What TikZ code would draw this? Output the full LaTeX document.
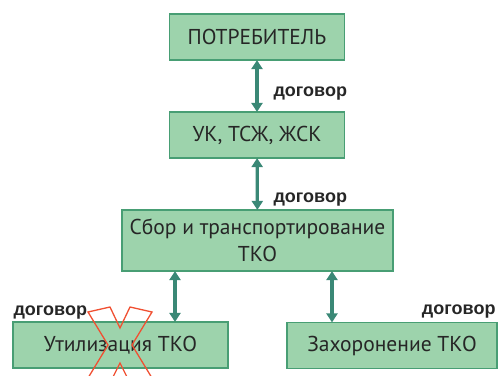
\documentclass[tikz,border=0pt]{standalone}
\usepackage{fontspec}
\setmainfont{PT Sans}
\newfontfamily\lblfont{Liberation Sans}
\usetikzlibrary{arrows.meta}
\definecolor{boxfill}{RGB}{157,211,172}
\definecolor{boxline}{RGB}{72,158,116}
\definecolor{arrcol}{RGB}{58,136,118}
\definecolor{xred}{RGB}{240,80,50}

\begin{document}
\begin{tikzpicture}[x=1pt,y=-1pt,
  blok/.style={draw=boxline,fill=boxfill,line width=1.2pt,inner sep=0pt,
    font=\fontsize{21.5}{27}\selectfont,text=black!85,align=center},
  arr/.style={{Triangle[width=11pt,length=9pt]}-{Triangle[width=11pt,length=9pt]},
    draw=arrcol,fill=arrcol,line width=3.2pt,shorten <=-0.5pt,shorten >=-0.5pt},
  dogovor/.style={font=\lblfont\bfseries\fontsize{18}{20}\selectfont,text=black!85}]
\clip (0,0) rectangle (500,375);
% boxes
\node[blok,minimum width=175,minimum height=46] (potr) at (257,37) {ПОТРЕБИТЕЛЬ};
\node[blok,minimum width=175,minimum height=46] (uk) at (257,135) {УК, ТСЖ, ЖСК};
\node[blok,minimum width=271,minimum height=61] (sbor) at (257.5,240.5) {Сбор и транспортирование\\ТКО};
\node[blok,minimum width=215,minimum height=46] (util) at (120.5,345) {Утилизация ТКО};
\node[blok,minimum width=210,minimum height=46] (zah) at (392,345.5) {Захоронение ТКО};
% arrows
\coordinate (c1) at (175,0);
\coordinate (c2) at (332,0);
\draw[arr] (potr) -- (uk);
\draw[arr] (uk) -- (sbor);
\draw[arr] (sbor.south -| c1) -- (util.north -| c1);
\draw[arr] (sbor.south -| c2) -- (zah.north -| c2);
% labels
\node[dogovor,anchor=west] (d1) at (270,94) {договор};
\node[dogovor,anchor=west] (d2) at (270,200) {договор};
\node[dogovor,anchor=west] (d3) at (10,313) {договор};
\node[dogovor,anchor=east] (d4) at (499,312) {договор};
% crossed out
\draw[xred,line width=1.3pt,line join=miter]
  (120,328) -- (130,307) -- (152,312) -- (132,345) -- (152,378) -- (130,383)
  -- (120,363) -- (110,383) -- (88,378) -- (108,345) -- (88,312) -- (110,307) -- cycle;
\end{tikzpicture}
\end{document}
